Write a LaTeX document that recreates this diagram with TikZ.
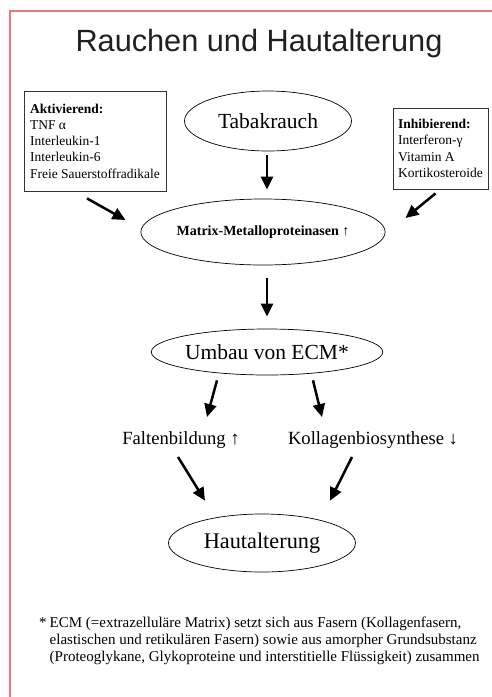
\documentclass[tikz,border=0pt]{standalone}
\usepackage{fontspec}
\setmainfont{Liberation Serif}
\newfontfamily\titlefont{Liberation Sans}
\usetikzlibrary{arrows.meta,calc,shapes.geometric}
\definecolor{framered}{RGB}{238,118,128}
\definecolor{titlegray}{RGB}{35,31,32}
\tikzset{
  arr/.style={line width=2.5pt,-{Triangle[length=13pt,width=12pt]}},
  oval/.style={ellipse,draw,line width=0.7pt,inner sep=0pt},
  factorbox/.style={draw=black!80,line width=0.8pt,align=left,inner sep=0pt,font=\fontsize{13.5}{16.3}\selectfont},
}
\begin{document}
\begin{tikzpicture}[x=1pt,y=-1pt]
\useasboundingbox (0,0) rectangle (492,697);
% frame
\draw[framered,line width=1.5pt] (10,697) -- (10,11) -- (492,11);
% title
\node[anchor=base,text=titlegray,font=\titlefont\fontsize{30.7}{36}\selectfont] (title) at (259,51) {Rauchen und Hautalterung};
% boxes
\node[factorbox,minimum width=142pt,minimum height=100pt] (akt) at (95,141)
 {\textbf{Aktivierend:}\\TNF α\\Interleukin-1\\Interleukin-6\\Freie Sauerstoffradikale};
\node[factorbox,minimum width=95pt,minimum height=81pt] (inh) at (440.5,148.5)
 {\textbf{Inhibierend:}\\Interferon-γ\\Vitamin A\\Kortikosteroide};
% ellipses
\node[oval,minimum width=167pt,minimum height=60pt,font=\fontsize{21.5}{24}\selectfont] (tabak) at (268,121) {Tabakrauch};
\node[oval,minimum width=242pt,minimum height=66pt,font=\bfseries\fontsize{14}{16}\selectfont] (mmp) at (263,232) {Matrix-Metalloproteinasen {\mdseries↑}};
\node[oval,minimum width=220pt,minimum height=46pt,font=\fontsize{21.5}{24}\selectfont] (umbau) at (267,352) {Umbau von ECM*};
\node[font=\fontsize{18.6}{20}\selectfont] (falten) at (181,440) {Faltenbildung ↑};
\node[font=\fontsize{18.6}{20}\selectfont] (kolla) at (373,440) {Kollagenbiosynthese ↓};
\node[oval,minimum width=187pt,minimum height=58pt,font=\fontsize{22.3}{24}\selectfont] (haut) at (262,543) {Hautalterung};
% arrows
\draw[arr] ($(tabak.south)+(-1,4)$) -- ($(mmp.north)+(4,-9)$);
\draw[arr] ($(akt.south)+(-8,7)$) -- ($(mmp.west)+(-15,-12)$);
\draw[arr] ($(inh.south)+(-5,4)$) -- ($(mmp.east)+(20,-14)$);
\draw[arr] ($(mmp.south)+(4,13)$) -- ($(umbau.north)+(0,-12)$);
\draw[arr] ($(umbau.south)+(-50,5)$) -- ($(falten.north)+(26,-11)$);
\draw[arr] ($(umbau.south)+(46,5)$) -- ($(kolla.north)+(-51,-11)$);
\draw[arr] ($(falten.south)+(-3,5)$) -- ($(haut.north)+(-57,-13)$);
\draw[arr] ($(kolla.south)+(-21,5)$) -- ($(haut.north)+(68,-13)$);
% footnote
\node[anchor=base west,inner sep=0pt] (note) at (39,627)
 {\fontsize{15}{17}\selectfont\begin{tabular}[t]{@{}l@{\hspace{3pt}}l@{}}
 *&ECM (=extrazelluläre Matrix) setzt sich aus Fasern (Kollagenfasern,\\
 &elastischen und retikulären Fasern) sowie aus amorpher Grundsubstanz\\
 &(Proteoglykane, Glykoproteine und interstitielle Flüssigkeit) zusammen
 \end{tabular}};
\end{tikzpicture}
\end{document}
